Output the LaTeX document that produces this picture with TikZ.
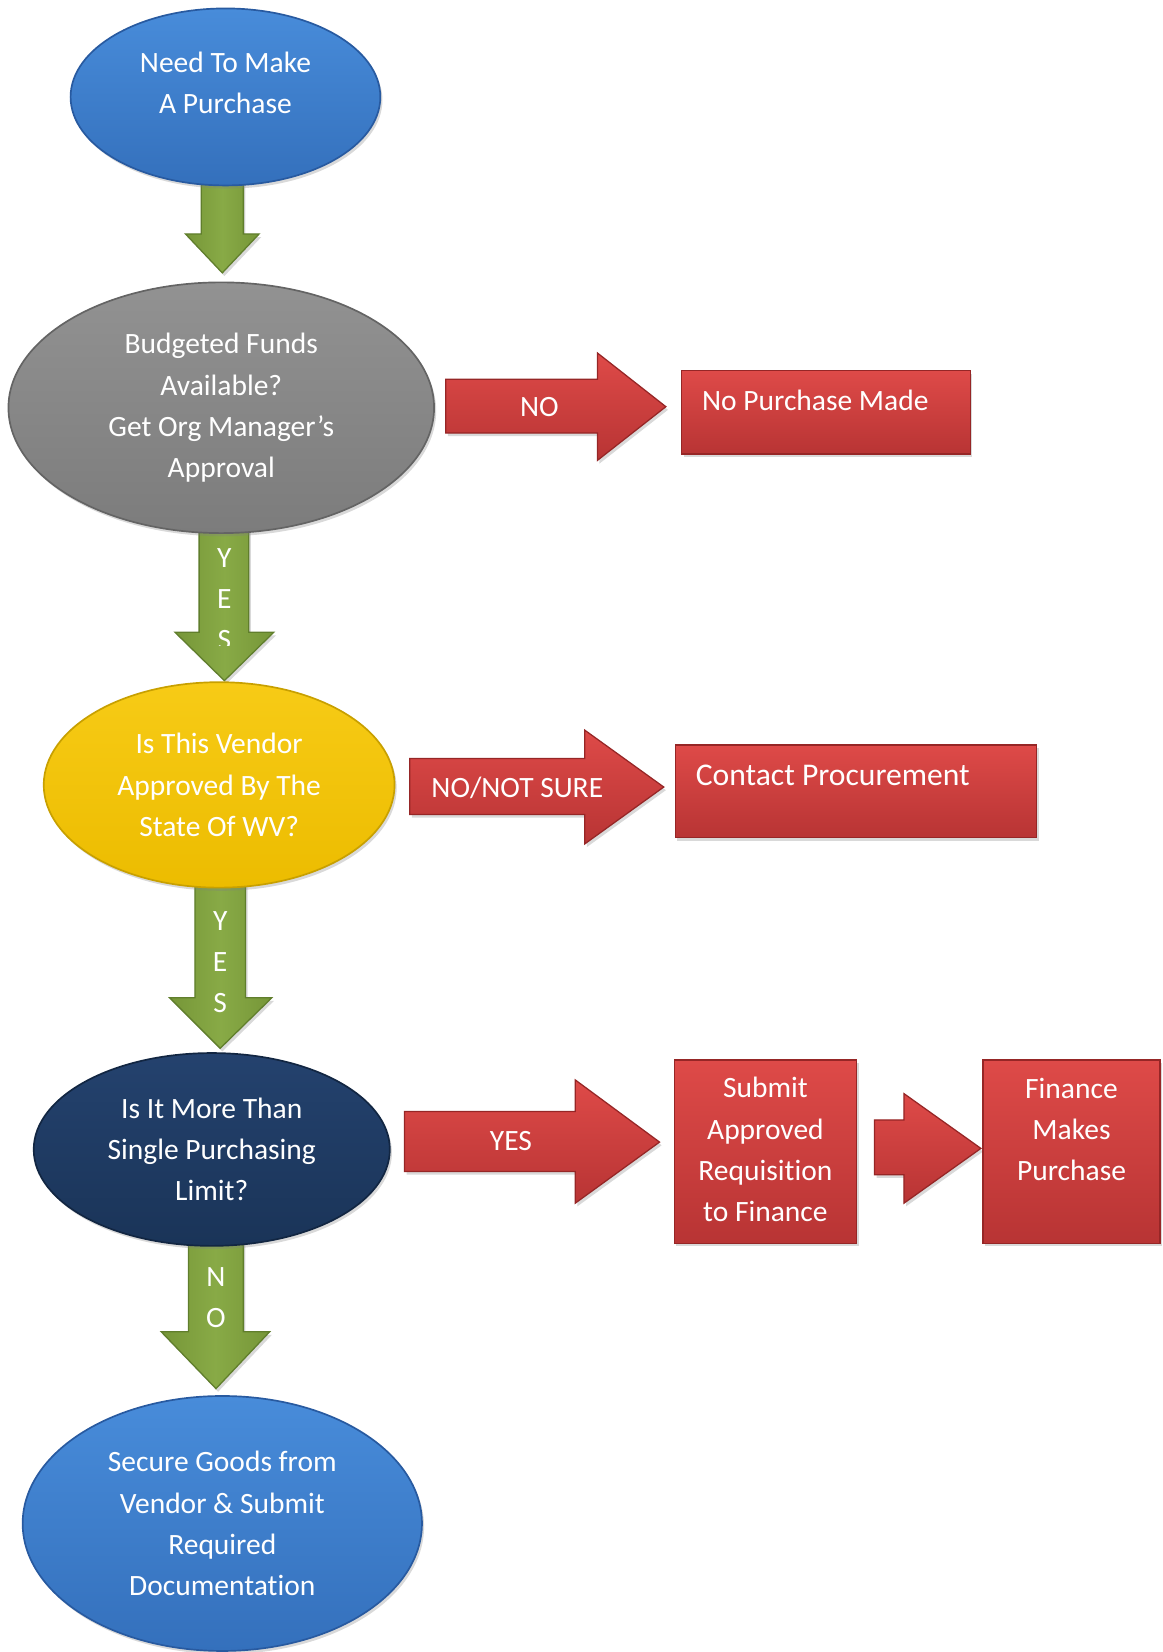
\documentclass[tikz,border=0pt]{standalone}
\usepackage{fontspec}
\setmainfont{Carlito}[Ligatures=NoCommon]
\usetikzlibrary{shapes.geometric,shadows}
\definecolor{bluetop}{RGB}{72,140,218}
\definecolor{bluebot}{RGB}{52,112,188}
\definecolor{blueedge}{RGB}{40,90,160}
\definecolor{graytop}{RGB}{146,146,146}
\definecolor{graybot}{RGB}{124,124,124}
\definecolor{grayedge}{RGB}{100,100,100}
\definecolor{yeltop}{RGB}{247,203,22}
\definecolor{yelbot}{RGB}{236,188,0}
\definecolor{yeledge}{RGB}{200,160,0}
\definecolor{navytop}{RGB}{36,66,110}
\definecolor{navybot}{RGB}{26,52,88}
\definecolor{navyedge}{RGB}{18,38,66}
\definecolor{redtop}{RGB}{222,74,72}
\definecolor{redbot}{RGB}{184,52,52}
\definecolor{rededge}{RGB}{150,38,38}
\definecolor{greentop}{RGB}{136,170,70}
\definecolor{greenbot}{RGB}{118,150,56}
\definecolor{greenedge}{RGB}{96,126,44}
\begin{document}
\begin{tikzpicture}[x=0.5pt,y=-0.5pt,
  every node/.style={font=\fontsize{14pt}{19.5pt}\selectfont, text=white, inner sep=0pt, align=center},
  shad/.style={drop shadow={opacity=0.3, shadow xshift=1pt, shadow yshift=-1.5pt}},
  oval/.style={ellipse, line width=0.8pt, shad},
  blueoval/.style={oval, top color=bluetop, bottom color=bluebot, draw=blueedge},
  grayoval/.style={oval, top color=graytop, bottom color=graybot, draw=grayedge},
  yeloval/.style={oval, top color=yeltop, bottom color=yelbot, draw=yeledge},
  navyoval/.style={oval, top color=navytop, bottom color=navybot, draw=navyedge},
  redbox/.style={rectangle, top color=redtop, bottom color=redbot, draw=rededge, line width=0.6pt, shad},
  redarrow/.style={top color=redtop, bottom color=redbot, draw=rededge, line width=0.6pt, line join=miter, shad},
  greenarrow/.style={left color=greenbot, right color=greenbot, middle color=greentop, draw=greenedge, line width=0.6pt, line join=miter, shad}
]
\useasboundingbox (0,0) rectangle (1103,1568);

% green down arrows (behind ovals)
\path[greenarrow] (191,170) -- (231,170) -- (231,222) -- (246,222) -- (211,259) -- (176,222) -- (191,222) -- cycle;
\path[greenarrow] (189,500) -- (236,500) -- (236,600) -- (260,600) -- (213,646) -- (166,600) -- (189,600) -- cycle;
\path[greenarrow] (185,838) -- (233,838) -- (233,947) -- (258,947) -- (209,995) -- (161,947) -- (185,947) -- cycle;
\path[greenarrow] (179,1176) -- (231,1176) -- (231,1264) -- (256,1264) -- (205,1318) -- (153,1264) -- (179,1264) -- cycle;

% ovals
\node[blueoval, minimum width=147pt, minimum height=84pt] (start) at (214,92) {};
\node (starttext) at (214,79) {Need To Make\\A Purchase};
\node[grayoval, minimum width=202pt, minimum height=119pt] (funds) at (210,387) {Budgeted Funds\\Available?\\Get Org Manager’s\\Approval};
\node[yeloval, minimum width=166.5pt, minimum height=97.5pt] (vendor) at (208,745) {Is This Vendor\\Approved By The\\State Of WV?};
\node[navyoval, minimum width=169pt, minimum height=91.5pt] (limit) at (201,1091) {Is It More Than\\Single Purchasing\\Limit?};
\node[blueoval, minimum width=189.5pt, minimum height=121pt] (secure) at (211,1446) {Secure Goods from\\Vendor \& Submit\\Required\\Documentation};

% labels on green arrows
\begin{scope}
\clip (150,505) rectangle (280,613);
\node (yes1) at (213,569) {Y\\E\\S};
\end{scope}
\node (yes2) at (209,913) {Y\\E\\S};
\node (no3) at (205,1231.5) {N\\O};

% red right arrows
\path[redarrow] (423,360) -- (567,360) -- (567,335) -- (632,386) -- (567,437) -- (567,411) -- (423,411) -- cycle;
\node (nolab) at (512,386) {NO};
\path[redarrow] (389,720) -- (555,720) -- (555,693) -- (630,747) -- (555,801) -- (555,773) -- (389,773) -- cycle;
\node (notsurelab) at (491,748) {NO/NOT SURE};
\path[redarrow] (384,1055) -- (546,1055) -- (546,1025) -- (626,1084) -- (546,1142) -- (546,1112) -- (384,1112) -- cycle;
\node (yeslab) at (485,1083) {YES};
\path[redarrow] (830,1063) -- (858,1063) -- (858,1038) -- (931,1090) -- (858,1142) -- (858,1115) -- (830,1115) -- cycle;

% red boxes
\node[redbox, minimum width=137pt, minimum height=39.5pt] (nopurchase) at (784,391.5) {};
\node[anchor=west] (nopurchasetext) at (666,380) {No Purchase Made};
\node[redbox, minimum width=171.5pt, minimum height=44pt] (procure) at (812.5,751) {};
\node[anchor=west, font=\fontsize{15pt}{19.5pt}\selectfont] (procuretext) at (660,736) {Contact Procurement};
\node[redbox, minimum width=86.5pt, minimum height=87pt] (submit) at (726.5,1093) {};
\node (submittext) at (726.5,1091) {Submit\\Approved\\Requisition\\to Finance};
\node[redbox, minimum width=84pt, minimum height=87pt] (finbox) at (1017,1093) {};
\node (fintext) at (1017,1072) {Finance\\Makes\\Purchase};
\end{tikzpicture}
\end{document}
